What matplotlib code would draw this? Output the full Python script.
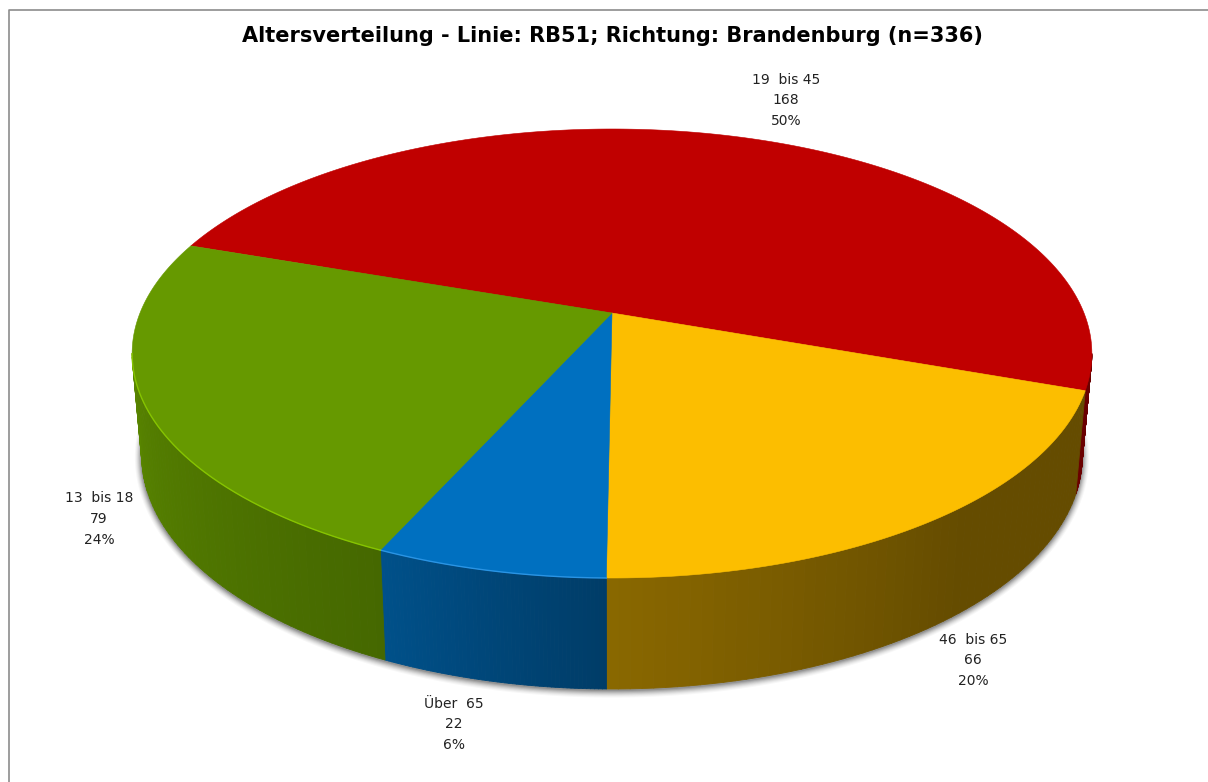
import numpy as np
import matplotlib
matplotlib.use("Agg")
import matplotlib.pyplot as plt
from matplotlib.collections import PolyCollection
from matplotlib.colors import to_rgb

titel = "Altersverteilung - Linie: RB51; Richtung: Brandenburg (n=336)"
gruppen = ["19  bis 45", "46  bis 65", "Über  65", "13  bis 18"]
werte = [168, 66, 22, 79]
prozent = ["50%", "20%", "6%", "24%"]
farben = ["#C00000", "#FCBE00", "#0070C0", "#669900"]
# helligkeit der sichtbaren seitenwand, im uhrzeigersinn von anfang bis ende
wand_hell = [(0.55, 0.55), (0.40, 0.55), (0.54, 0.72), (0.68, 0.87)]
kante = [None, None, "#2a94e4", "#86c400"]
label_pos = [(786, 100), (973, 660), (454, 724), (99, 519)]

# perspektive der torte, alles in pixeln des bildes
CX, CY = 612, 313
RX, RY, K = 472, 217.2, 0.1804
START = -70.9
BX, BY, B0 = 0.98, 1.04, 413.4


def oben(theta):
    t = np.radians(theta)
    n = 1 + K * np.cos(t)
    return CX + RX * np.sin(t) / n, CY - RY * np.cos(t) / n


def unten(theta):
    x, y = oben(theta)
    return CX + BX * (x - CX), B0 + BY * (y - CY)


fig = plt.figure(figsize=(12.08, 7.82), dpi=100)
ax = fig.add_axes([0, 0, 1, 1])
ax.set_xlim(0, 1208)
ax.set_ylim(782, 0)
ax.axis("off")

# rahmen
ax.plot([8.5, 8.5, 1208], [782, 9.5, 9.5], color="#8c8c8c", lw=1.2)

# schatten unter der torte, etwas groesser als der boden
alle = np.linspace(0, 360, 361)
sx, sy = unten(alle)
mx, my = sx.mean(), sy.mean()
for d, a in [(7, 0.03), (6, 0.04), (5, 0.05), (4, 0.07), (3, 0.09), (2, 0.11), (1, 0.13)]:
    ax.fill(mx + (sx - mx) * (1 + d / 480), my + (sy - my) * (1 + d / 235) + 1,
            color="black", alpha=a, lw=0)

grenzen = START + np.cumsum([0] + werte) * 360.0 / sum(werte)
# nur der vordere teil der wand ist zu sehen
vorn_von = np.degrees(np.arccos(-K))
vorn_bis = 360 - vorn_von

for i, f in enumerate(farben):
    a = max(grenzen[i], vorn_von)
    b = min(grenzen[i + 1], vorn_bis)
    if b <= a:
        continue
    wt = np.linspace(a, b, 60)
    polys = []
    cols = []
    h0, h1 = wand_hell[i]
    for j in range(len(wt) - 1):
        x1, y1 = oben(wt[j:j + 2])
        x2, y2 = unten(wt[j:j + 2])
        polys.append(list(zip(x1, y1)) + list(zip(x2[::-1], y2[::-1])))
        h = h0 + (h1 - h0) * (wt[j] - a) / (b - a)
        # gelb bleibt rechts flach dunkel
        if i == 1:
            h = max(h0, h0 + (h1 - h0) * (wt[j] - 140) / (b - 140))
        cols.append(tuple(c * h for c in to_rgb(f)))
    ax.add_collection(PolyCollection(polys, facecolors=cols, edgecolors=cols, linewidths=0.6))

for i, f in enumerate(farben):
    theta = np.linspace(grenzen[i], grenzen[i + 1], 300)
    x, y = oben(theta)
    ax.fill(np.r_[CX, x], np.r_[CY, y], color=f, lw=0.4)
    if kante[i]:
        vorn = theta[(theta > vorn_von) & (theta < vorn_bis)]
        kx, ky = oben(vorn)
        ax.plot(kx, ky, color=kante[i], lw=1.0)

for i, g in enumerate(gruppen):
    x, y = label_pos[i]
    ax.text(x, y - 20.5, g, ha="center", va="center", fontsize=10, color="#222222")
    ax.text(x, y, str(werte[i]), ha="center", va="center", fontsize=10, color="#222222")
    ax.text(x, y + 21, prozent[i], ha="center", va="center", fontsize=10, color="#222222")

ax.text(612, 36, titel, ha="center", va="center", fontsize=15, fontweight="bold", color="black")

fig.savefig("out.png", dpi=100)
